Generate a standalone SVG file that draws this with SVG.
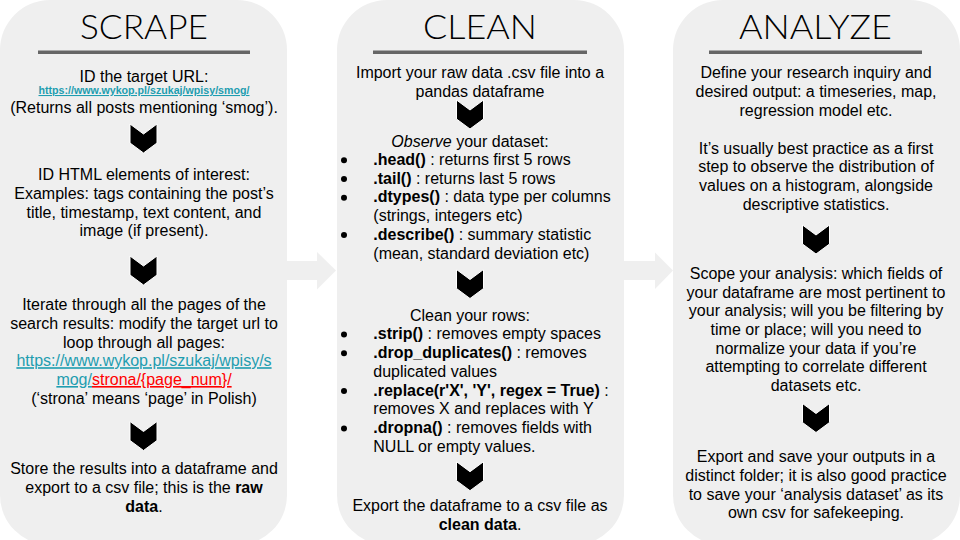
<svg xmlns="http://www.w3.org/2000/svg" width="960" height="540" viewBox="0 0 960 540">
<defs>
<style>
.panel{fill:#efefef}
.hd{font-family:Lato,"DejaVu Sans",sans-serif;font-weight:300;font-size:33px;fill:#000;text-anchor:middle}
.rule{fill:#666666}
.t{font-family:"Liberation Sans",Arial,sans-serif;font-size:16px;fill:#000}
.c{text-anchor:middle}
.b{font-weight:bold}
.i{font-style:italic}
.link{fill:#1e9db0;text-decoration:underline}
.red{fill:#ff0000;text-decoration:underline}
.small{font-size:10.67px;font-weight:bold}
.chev{fill:#000;stroke:#ffffff;stroke-width:1}
.arrow{fill:#efefef}
</style>
<path id="chev" d="M0,0 L13.5,10 L27,0 L27,19 L13.5,29 L0,19 Z"/>
</defs>
<rect width="960" height="540" fill="#ffffff"/>

<g id="connectors">
<polygon class="arrow" points="287,261 317,261 317,252 336,270.5 317,289.5 317,280 287,280"/>
<polygon class="arrow" points="623,261 655,261 655,252.5 673,270.5 655,289 655,280 623,280"/>
</g>

<g id="scrape">
<rect class="panel" x="0" y="0" width="287" height="545" rx="50"/>
<text class="hd" x="144" y="39" textLength="128" lengthAdjust="spacingAndGlyphs">SCRAPE</text>
<rect class="rule" x="38" y="50.5" width="212" height="3.5"/>
<text class="t c" x="144" y="82">ID the target URL:</text>
<text class="t c link small" x="144" y="94">https://www.wykop.pl/szukaj/wpisy/smog/</text>
<text class="t c" x="144" y="113">(Returns all posts mentioning ‘smog’).</text>
<use href="#chev" class="chev" x="130" y="124"/>
<text class="t c" x="144" y="180">ID HTML elements of interest:</text>
<text class="t c" x="144" y="199">Examples: tags containing the post’s</text>
<text class="t c" x="144" y="217.7">title, timestamp, text content, and</text>
<text class="t c" x="144" y="236.4">image (if present).</text>
<use href="#chev" class="chev" x="130" y="256"/>
<text class="t c" x="144" y="310">Iterate through all the pages of the</text>
<text class="t c" x="144" y="328.8">search results: modify the target url to</text>
<text class="t c" x="144" y="347.5">loop through all pages:</text>
<text class="t c link" x="144" y="366.2">https://www.wykop.pl/szukaj/wpisy/s</text>
<text class="t c" x="144" y="385"><tspan class="link">mog/</tspan><tspan class="red">strona/{page_num}/</tspan></text>
<text class="t c" x="144" y="403.7">(‘strona’ means ‘page’ in Polish)</text>
<use href="#chev" class="chev" x="130" y="421.5"/>
<text class="t c" x="144" y="474">Store the results into a dataframe and</text>
<text class="t c" x="144" y="492.8">export to a csv file; this is the <tspan class="b">raw</tspan></text>
<text class="t c" x="144" y="511.5"><tspan class="b">data</tspan>.</text>
</g>

<g id="clean">
<rect class="panel" x="337" y="0" width="287" height="545" rx="50"/>
<text class="hd" x="480" y="39" textLength="114" lengthAdjust="spacingAndGlyphs">CLEAN</text>
<rect class="rule" x="373" y="50.5" width="214" height="3.5"/>
<text class="t c" x="480" y="78">Import your raw data .csv file into a</text>
<text class="t c" x="480" y="96.7">pandas dataframe</text>
<use href="#chev" class="chev" x="456.5" y="100"/>
<text class="t c" x="470" y="146.5"><tspan class="i">Observe</tspan> your dataset:</text>
<circle cx="344" cy="160.3" r="3"/>
<text class="t" x="373.3" y="165"><tspan class="b">.head()</tspan> : returns first 5 rows</text>
<circle cx="344" cy="179" r="3"/>
<text class="t" x="373.3" y="183.7"><tspan class="b">.tail()</tspan> : returns last 5 rows</text>
<circle cx="344" cy="197.7" r="3"/>
<text class="t" x="373.3" y="202.4"><tspan class="b">.dtypes()</tspan> : data type per columns</text>
<text class="t" x="373.3" y="221.1">(strings, integers etc)</text>
<circle cx="344" cy="235.1" r="3"/>
<text class="t" x="373.3" y="239.8"><tspan class="b">.describe()</tspan> : summary statistic</text>
<text class="t" x="373.3" y="258.5">(mean, standard deviation etc)</text>
<use href="#chev" class="chev" x="456.5" y="269.5"/>
<text class="t c" x="470" y="320.5">Clean your rows:</text>
<circle cx="344" cy="334.5" r="3"/>
<text class="t" x="373.3" y="339.2"><tspan class="b">.strip()</tspan> : removes empty spaces</text>
<circle cx="344" cy="353.3" r="3"/>
<text class="t" x="373.3" y="358"><tspan class="b">.drop_duplicates()</tspan> : removes</text>
<text class="t" x="373.3" y="376.8">duplicated values</text>
<circle cx="344" cy="390.9" r="3"/>
<text class="t" x="373.3" y="395.6"><tspan class="b">.replace(r'X', 'Y', regex = True)</tspan> :</text>
<text class="t" x="373.3" y="414.4">removes X and replaces with Y</text>
<circle cx="344" cy="428.5" r="3"/>
<text class="t" x="373.3" y="433.2"><tspan class="b">.dropna()</tspan> : removes fields with</text>
<text class="t" x="373.3" y="452">NULL or empty values.</text>
<use href="#chev" class="chev" x="456.5" y="461.7"/>
<text class="t c" x="480" y="511">Export the dataframe to a csv file as</text>
<text class="t c" x="480" y="529.5"><tspan class="b">clean data</tspan>.</text>
</g>

<g id="analyze">
<rect class="panel" x="673" y="0" width="287" height="545" rx="50"/>
<text class="hd" x="815.5" y="39" textLength="153" lengthAdjust="spacingAndGlyphs">ANALYZE</text>
<rect class="rule" x="709" y="50.5" width="213" height="3.5"/>
<text class="t c" x="816" y="78">Define your research inquiry and</text>
<text class="t c" x="816" y="96.8">desired output: a timeseries, map,</text>
<text class="t c" x="816" y="115.5">regression model etc.</text>
<text class="t c" x="816" y="153.7">It’s usually best practice as a first</text>
<text class="t c" x="816" y="172.4">step to observe the distribution of</text>
<text class="t c" x="816" y="191.1">values on a histogram, alongside</text>
<text class="t c" x="816" y="209.8">descriptive statistics.</text>
<use href="#chev" class="chev" x="802.5" y="225"/>
<text class="t c" x="816" y="278.8">Scope your analysis: which fields of</text>
<text class="t c" x="816" y="297.5">your dataframe are most pertinent to</text>
<text class="t c" x="816" y="316.2">your analysis; will you be filtering by</text>
<text class="t c" x="816" y="335">time or place; will you need to</text>
<text class="t c" x="816" y="353.7">normalize your data if you’re</text>
<text class="t c" x="816" y="372.4">attempting to correlate different</text>
<text class="t c" x="816" y="391.1">datasets etc.</text>
<use href="#chev" class="chev" x="802.5" y="403.5"/>
<text class="t c" x="816" y="462.2">Export and save your outputs in a</text>
<text class="t c" x="816" y="481">distinct folder; it is also good practice</text>
<text class="t c" x="816" y="499.7">to save your ‘analysis dataset’ as its</text>
<text class="t c" x="816" y="518.4">own csv for safekeeping.</text>
</g>
</svg>
